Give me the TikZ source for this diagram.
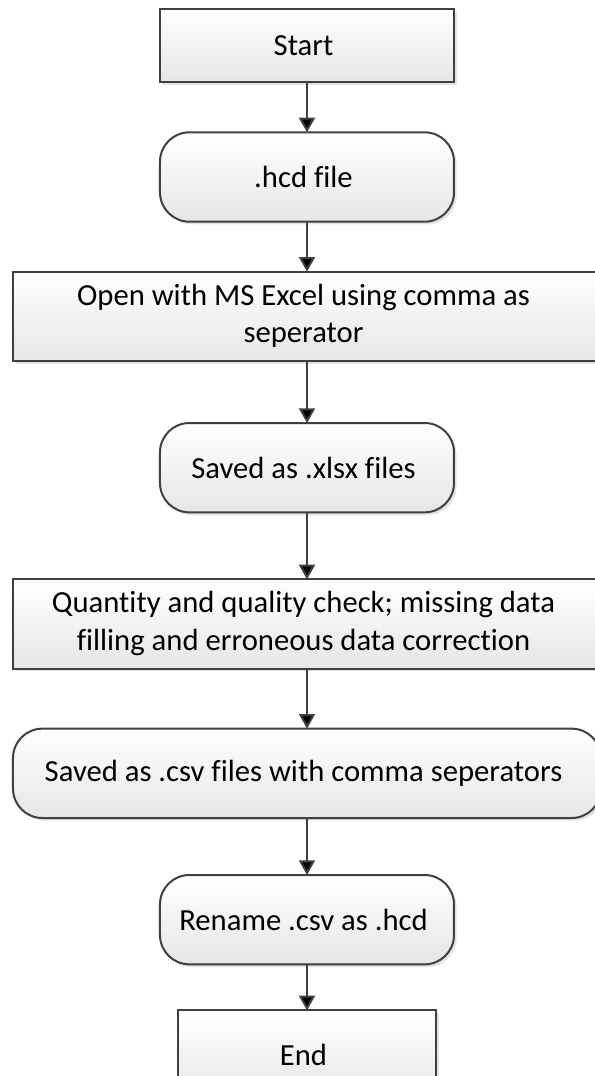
\documentclass[tikz,border=0pt]{standalone}
\usepackage{fontspec}
\setmainfont{Carlito}[Ligatures=NoCommon]
\usepackage{tikz}
\usetikzlibrary{matrix,arrows.meta,shadows}
\definecolor{edgegray}{HTML}{404040}
\definecolor{fillgray}{HTML}{E6E6E6}
\newcommand{\twolines}[2]{\begin{tabular}{@{}c@{}}#1\\#2\end{tabular}}
\tikzset{
	procbox/.style={rectangle, draw=edgegray, line width=1.5pt, top color=white, bottom color=fillgray,
		drop shadow={shadow xshift=2pt, shadow yshift=-2pt, opacity=0.25, fill=black!45},
		align=center, minimum width=220.5pt, minimum height=67pt, inner sep=4pt, outer sep=0pt},
	termbox/.style={rounded corners=22pt},
	widebox/.style={minimum width=441pt}
}

\begin{document}
\begin{tikzpicture}[font=\fontsize{23}{28}\selectfont]
	\matrix (m) [matrix of nodes,row sep=36pt,nodes={procbox}]
	{
		|[minimum height=55pt]| Start \\
		|[termbox]| .hcd file \\
		|[widebox]| \twolines{Open with MS Excel using comma as}{seperator} \\[9pt]
		|[termbox]| Saved as .xlsx files \\[12.75pt]
		|[widebox]| \twolines{Quantity and quality check; missing data}{filling and erroneous data correction} \\[7.5pt]
		|[termbox,widebox]| Saved as .csv files with comma seperators \\[5.25pt]
		|[termbox]| Rename .csv as .hcd \\[-3pt]
		|[minimum width=193.5pt]| End \\
	};
	\path[-{Triangle[length=11pt,width=12pt]}, draw=edgegray, line width=1.5pt]
	(m-1-1) edge (m-2-1)
	(m-2-1) edge (m-3-1)
	(m-3-1) edge (m-4-1)
	(m-4-1) edge (m-5-1)
	(m-5-1) edge (m-6-1)
	(m-6-1) edge (m-7-1)
	(m-7-1) edge (m-8-1);

	% page frame, cut at the right and bottom
	\pgfresetboundingbox
	\path[use as bounding box] ([xshift=-230.25pt,yshift=6.75pt]m-1-1.north) rectangle ++(445.5pt,-807pt);
\end{tikzpicture}
\end{document}
